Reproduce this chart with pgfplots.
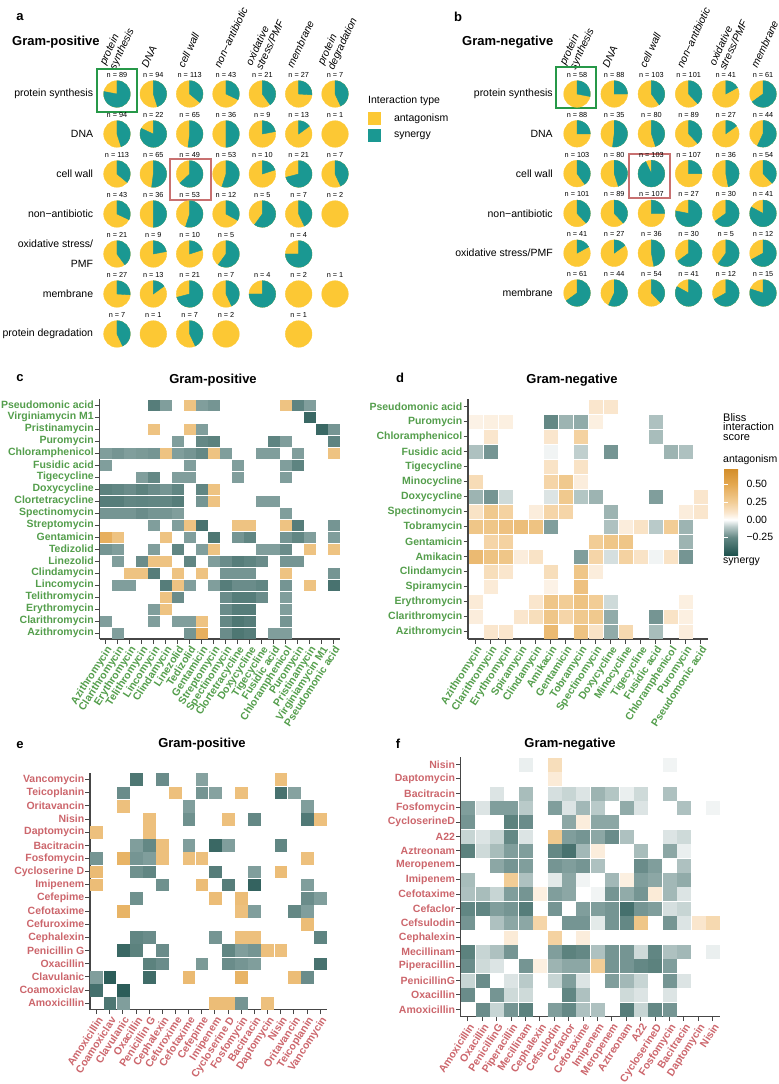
\documentclass[border=0pt]{standalone}
\usepackage{fontspec}
\setmainfont{Liberation Sans}
\usepackage{pgfplots}
\usepackage{pgfplotstable}
\pgfplotsset{compat=1.18}

\pgfdeclareplotmark{emptymark}{}

\definecolor{pieY}{RGB}{252,200,52}
\definecolor{pieT}{RGB}{26,152,146}
\definecolor{labG}{RGB}{84,158,76}
\definecolor{labR}{RGB}{204,102,108}
\definecolor{axg}{RGB}{70,70,70}
\definecolor{boxG}{RGB}{38,152,72}
\definecolor{boxR}{RGB}{200,112,112}

\newcommand\rowfont{\fontsize{10.5bp}{20bp}\selectfont}
\newcommand\colfont{\fontsize{10.5bp}{11bp}\selectfont\itshape}
\newcommand\nfont{\fontsize{7.3bp}{8bp}\selectfont}
\newcommand\hmfont{\fontsize{10.5bp}{11bp}\selectfont\bfseries}
\newcommand\titfont{\fontsize{13bp}{15bp}\selectfont\bfseries}
\newcommand\txtfont{\fontsize{10.5bp}{12bp}\selectfont}

\pgfplotsset{
  colormap={bliss}{
    rgb255(0pt)=(30,82,78);
    rgb255(25pt)=(100,136,133);
    rgb255(40pt)=(185,202,201);
    rgb255(50pt)=(255,255,255);
    rgb255(60pt)=(250,230,205);
    rgb255(75pt)=(242,205,150);
    rgb255(100pt)=(228,168,80);
    rgb255(123pt)=(210,140,40)
  },
  pieaxis/.style={
    scale only axis, clip=false,
    axis line style={draw=none}, major tick length=0pt, tick style={draw=none},
    xticklabel pos=upper,
    point meta min=0, point meta max=1,
    yticklabel style={font=\rowfont, align=right, anchor=east, inner sep=0pt, xshift=-5.5bp},
    xticklabel style={font=\colfont, align=left, xshift=-9bp, yshift=7bp, rotate=65, anchor=west, inner sep=0pt},
  },
  piedraw/.style={
    scatter, only marks, mark=emptymark,
    point meta=\thisrow{f},
    scatter/@pre marker code/.code={%
      \pgfmathsetmacro\pang{-0.36*\pgfplotspointmetatransformed}%
      \pgfmathtruncatemacro\pdo{\pgfplotspointmetatransformed>0.5 ? 1 : 0}%
      \fill[pieY] (0bp,0bp) circle[radius=13.3bp];
      \ifnum\pdo=1
        \fill[pieT] (0bp,0bp) -- (0bp,13.3bp) arc[start angle=90, delta angle=\pang, radius=13.3bp] -- cycle;
      \fi
    },
    scatter/@post marker code/.code={},
  },
  nlab/.style={
    only marks, mark=emptymark, point meta=explicit symbolic,
    nodes near coords={n = \pgfplotspointmeta}, nodes near coords align={anchor=center},
    every node near coord/.append style={font=\nfont, inner sep=0pt, yshift=19bp, text=black},
  },
  hm/.style={
    scale only axis, clip=false,
    axis x line*=bottom, axis y line*=left,
    axis line style={-, draw=axg, line width=1.1bp},
    tick align=outside, major tick length=4.5bp, tick style={draw=axg, line width=0.9bp},
    yticklabel style={font=\hmfont, inner sep=1bp},
    xticklabel style={font=\hmfont, rotate=57, anchor=north east, inner sep=1bp},
    colormap name=bliss, point meta min=-0.5, point meta max=0.73,
  },
  hmplot/.style={scatter, only marks, mark=square*, mark size=#1, point meta=explicit,
    scatter/use mapped color={draw=mapped color, fill=mapped color}},
}

\pgfplotstableread{
x y f n
1 7 0.78 89
2 7 0.45 94
3 7 0.36 113
4 7 0.32 43
5 7 0.40 21
6 7 0.26 27
7 7 0.43 7
1 6 0.45 94
2 6 0.82 22
3 6 0.52 65
4 6 0.50 36
5 6 0.22 9
6 6 0.15 13
7 6 0 1
1 5 0.36 113
2 5 0.52 65
3 5 0.63 49
4 5 0.55 53
5 5 0.20 10
6 5 0.71 21
7 5 0.43 7
1 4 0.32 43
2 4 0.50 36
3 4 0.55 53
4 4 0.33 12
5 4 0.60 5
6 4 0.43 7
7 4 0 2
1 3 0.40 21
2 3 0.22 9
3 3 0.20 10
4 3 0.60 5
6 3 0.75 4
1 2 0.26 27
2 2 0.15 13
3 2 0.71 21
4 2 0.43 7
5 2 0.75 4
6 2 0 2
7 2 0 1
1 1 0.43 7
2 1 0 1
3 1 0.43 7
4 1 0 2
6 1 0 1
}\pieA

\pgfplotstableread{
x y f n
1 6 0.28 58
2 6 0.25 88
3 6 0.40 103
4 6 0.38 101
5 6 0.17 41
6 6 0.65 61
1 5 0.25 88
2 5 0.52 35
3 5 0.45 80
4 5 0.38 89
5 5 0.15 27
6 5 0.57 44
1 4 0.40 103
2 4 0.45 80
3 4 0.93 103
4 4 0.25 107
5 4 0.47 36
6 4 0.38 54
1 3 0.38 101
2 3 0.38 89
3 3 0.25 107
4 3 0.78 27
5 3 0.65 30
6 3 0.83 41
1 2 0.17 41
2 2 0.15 27
3 2 0.47 36
4 2 0.65 30
5 2 0.60 5
6 2 0.67 12
1 1 0.65 61
2 1 0.57 44
3 1 0.38 54
4 1 0.83 41
5 1 0.67 12
6 1 0.80 15
}\pieB

\begin{document}
\begin{tikzpicture}
\useasboundingbox (0,0) rectangle (779bp,-1084bp);

% ---------------- panel a ----------------
\node[font=\titfont] at (20bp,-17bp) {a};
\node[font=\titfont, anchor=west, inner sep=0pt] at (12bp,-42bp) {Gram-positive};
\begin{axis}[pieaxis, at={(98.8bp,-74bp)}, anchor=north west, width=254.4bp, height=280bp,
  xmin=0.5, xmax=7.5, ymin=0.5, ymax=7.5,
  xtick={1,...,7}, ytick={1,...,7},
  xticklabels={{protein\\synthesis},DNA,{cell wall},{non−antibiotic},{oxidative\\stress/PMF},membrane,{protein\\degradation}},
  yticklabels={{protein degradation},membrane,{oxidative stress/\\PMF},{non−antibiotic},{cell wall},DNA,{protein synthesis}},
  legend style={at={(1.058,0.864)}, anchor=north west, draw=none, fill=none, inner sep=0pt,
    font=\txtfont, row sep=5bp, nodes={inner sep=0pt, anchor=west},
    /tikz/every odd column/.style={column sep=14bp}},
]
\addlegendimage{legend image code/.code={\fill[pieY] (0bp,-5.75bp) rectangle (11.5bp,5.75bp);}}
\addlegendentry{antagonism}
\addlegendimage{legend image code/.code={\fill[pieT] (0bp,-5.75bp) rectangle (11.5bp,5.75bp);}}
\addlegendentry{synergy}
\addplot[piedraw] table[x=x, y=y] {\pieA};
\addplot[nlab] table[x=x, y=y, meta=n] {\pieA};
\draw[boxG, line width=2bp] (axis cs:0.45,6.55) rectangle (axis cs:1.55,7.625);
\draw[boxR, line width=2bp] (axis cs:2.46,4.35) rectangle (axis cs:3.59,5.375);
\end{axis}
\node[font=\txtfont, anchor=west, inner sep=0pt] at (368bp,-101bp) {Interaction type};

% ---------------- panel b ----------------
\node[font=\titfont] at (458bp,-17bp) {b};
\node[font=\titfont, anchor=west, inner sep=0pt] at (462bp,-42bp) {Gram-negative};
\begin{axis}[pieaxis, at={(558.4bp,-74.1bp)}, anchor=north west, width=223.2bp, height=238.8bp,
  xmin=0.5, xmax=6.5, ymin=0.5, ymax=6.5,
  xtick={1,...,6}, ytick={1,...,6},
  xticklabels={{protein\\synthesis},DNA,{cell wall},{non−antibiotic},{oxidative\\stress/PMF},membrane},
  yticklabels={membrane,{oxidative stress/PMF},{non−antibiotic},{cell wall},DNA,{protein synthesis}},
]
\addplot[piedraw] table[x=x, y=y] {\pieB};
\addplot[nlab] table[x=x, y=y, meta=n] {\pieB};
\draw[boxG, line width=2bp] (axis cs:0.435,5.65) rectangle (axis cs:1.51,6.68);
\draw[boxR, line width=2bp] (axis cs:2.40,3.38) rectangle (axis cs:3.50,4.49);
\end{axis}

% ---------------- panel c ----------------
\node[font=\titfont] at (20bp,-378bp) {c};
\node[font=\titfont] at (213bp,-380bp) {Gram-positive};
\begin{axis}[hm, at={(99.5bp,-399bp)}, anchor=north west, width=240bp, height=240bp,
  xmin=0.5, xmax=20.5, ymin=0.5, ymax=20.5, xtick={1,...,20}, ytick={1,...,20},
  yticklabel style={text=labG}, xticklabel style={text=labG},
  xticklabels={Azithromycin,Clarithromycin,Erythromycin,Telithromycin,Lincomycin,Clindamycin,Linezolid,Tedizolid,Gentamicin,Streptomycin,Spectinomycin,Clortetracycline,Doxycycline,Tigecycline,{Fusidic acid},Chloramphenicol,Puromycin,Pristinamycin,{Virginiamycin M1},{Pseudomonic acid}},
  yticklabels={Azithromycin,Clarithromycin,Erythromycin,Telithromycin,Lincomycin,Clindamycin,Linezolid,Tedizolid,Gentamicin,Streptomycin,Spectinomycin,Clortetracycline,Doxycycline,Tigecycline,{Fusidic acid},Chloramphenicol,Puromycin,Pristinamycin,{Virginiamycin M1},{Pseudomonic acid}},
]
\addplot[hmplot=5.3bp] coordinates {
(5,20)[-0.3] (6,20)[-0.2] (8,20)[0.32] (9,20)[-0.2] (10,20)[-0.22] (16,20)[0.32] (17,20)[-0.27] (18,20)[-0.2]
(18,19)[-0.4]
(5,18)[0.32] (8,18)[0.32] (9,18)[-0.2] (19,18)[-0.4] (20,18)[-0.22]
(7,17)[-0.2] (9,17)[-0.25] (10,17)[-0.28] (15,17)[-0.27] (16,17)[-0.2] (20,17)[-0.27]
(1,16)[-0.2] (2,16)[-0.22] (3,16)[-0.2] (4,16)[-0.21] (5,16)[-0.22] (6,16)[0.32] (7,16)[-0.2] (8,16)[-0.22] (9,16)[-0.25] (10,16)[0.32] (11,16)[-0.2] (14,16)[-0.2] (15,16)[-0.2] (17,16)[-0.2] (20,16)[0.32]
(1,15)[-0.2] (8,15)[-0.2] (12,15)[-0.2] (16,15)[-0.2] (17,15)[-0.27]
(4,14)[-0.2] (5,14)[-0.25] (7,14)[-0.2] (8,14)[-0.2] (12,14)[-0.2] (16,14)[-0.2]
(1,13)[-0.28] (2,13)[-0.26] (3,13)[-0.24] (4,13)[-0.28] (5,13)[-0.24] (6,13)[-0.22] (7,13)[-0.26] (9,13)[-0.26] (10,13)[0.32]
(1,12)[-0.3] (2,12)[-0.3] (3,12)[-0.26] (4,12)[-0.27] (5,12)[-0.26] (6,12)[-0.26] (7,12)[-0.3] (9,12)[-0.22] (10,12)[0.32] (14,12)[-0.2] (15,12)[-0.2]
(1,11)[-0.22] (2,11)[-0.22] (3,11)[-0.22] (4,11)[-0.24] (5,11)[-0.22] (6,11)[-0.22] (7,11)[-0.2] (16,11)[-0.2]
(5,10)[-0.2] (7,10)[-0.2] (8,10)[0.32] (9,10)[-0.35] (12,10)[0.32] (13,10)[0.32] (16,10)[0.32] (17,10)[-0.3] (20,10)[-0.22]
(1,9)[0.45] (2,9)[0.32] (6,9)[0.32] (8,9)[-0.2] (10,9)[-0.33] (12,9)[-0.22] (13,9)[-0.26] (16,9)[-0.22] (17,9)[-0.26] (18,9)[-0.2] (20,9)[-0.2]
(1,8)[-0.22] (2,8)[-0.2] (5,8)[-0.2] (7,8)[-0.26] (9,8)[-0.2] (10,8)[0.32] (14,8)[-0.2] (15,8)[-0.2] (16,8)[-0.24] (18,8)[0.32] (20,8)[0.32]
(2,7)[-0.2] (4,7)[-0.24] (5,7)[0.32] (6,7)[0.32] (8,7)[-0.26] (10,7)[-0.2] (11,7)[-0.24] (12,7)[-0.3] (13,7)[-0.27] (14,7)[-0.24] (16,7)[-0.22] (17,7)[-0.22]
(3,6)[0.32] (4,6)[0.32] (5,6)[-0.3] (7,6)[0.32] (9,6)[0.32] (11,6)[-0.22] (12,6)[-0.22] (13,6)[-0.22] (16,6)[0.32] (20,6)[-0.22]
(2,5)[-0.2] (3,5)[-0.2] (6,5)[-0.3] (7,5)[0.32] (8,5)[-0.2] (10,5)[-0.2] (11,5)[-0.3] (12,5)[-0.24] (13,5)[-0.24] (14,5)[-0.26] (16,5)[-0.22] (18,5)[0.32] (20,5)[-0.35]
(6,4)[0.32] (7,4)[-0.24] (11,4)[-0.24] (12,4)[-0.3] (13,4)[-0.3] (14,4)[-0.24] (16,4)[-0.2]
(5,3)[-0.2] (6,3)[0.32] (11,3)[-0.24] (12,3)[-0.3] (13,3)[-0.3] (16,3)[-0.2]
(1,2)[-0.2] (5,2)[-0.2] (7,2)[-0.2] (8,2)[-0.2] (9,2)[0.32] (11,2)[-0.25] (12,2)[-0.33] (13,2)[-0.3] (16,2)[-0.22]
(2,1)[-0.2] (8,1)[-0.22] (9,1)[0.45] (11,1)[-0.24] (12,1)[-0.33] (13,1)[-0.3] (15,1)[-0.2] (16,1)[-0.2]
};
\end{axis}

% ---------------- panel d ----------------
\node[font=\titfont] at (400bp,-378bp) {d};
\node[font=\titfont] at (572bp,-380bp) {Gram-negative};
\begin{axis}[hm, at={(468bp,-399bp)}, anchor=north west, width=240bp, height=240bp,
  xmin=0.5, xmax=16.5, ymin=0.5, ymax=16.5, xtick={1,...,16}, ytick={1,...,16},
  yticklabel style={text=labG}, xticklabel style={text=labG},
  xticklabels={Azithromycin,Clarithromycin,Erythromycin,Spiramycin,Clindamycin,Amikacin,Gentamicin,Tobramycin,Spectinomycin,Doxycycline,Minocycline,Tigecycline,{Fusidic acid},Chloramphenicol,Puromycin,{Pseudomonic acid}},
  yticklabels={Azithromycin,Clarithromycin,Erythromycin,Spiramycin,Clindamycin,Amikacin,Gentamicin,Tobramycin,Spectinomycin,Doxycycline,Minocycline,Tigecycline,{Fusidic acid},Chloramphenicol,Puromycin,{Pseudomonic acid}},
  colorbar,
  colorbar style={at={(1.0667,0.7125)}, anchor=north west,
    scale only axis, width=19bp, height=87bp,
    ytick={-0.25,0,0.25,0.5}, yticklabels={−0.25,0.00,0.25,0.50},
    yticklabel style={font=\txtfont, text=black},
    axis line style={draw=none}, tick align=inside, major tick length=4bp,
    ytick style={draw=white, line width=0.8bp}},
]
\addplot[hmplot=6.8bp] coordinates {
(9,16)[0.1] (10,16)[0.1]
(1,15)[0.05] (2,15)[0.06] (3,15)[0.06] (6,15)[-0.25] (7,15)[-0.15] (8,15)[-0.17] (9,15)[0.06] (13,15)[-0.12]
(2,14)[0.1] (6,14)[0.1] (8,14)[0.22] (13,14)[-0.13]
(1,13)[-0.12] (2,13)[-0.22] (6,13)[-0.02] (8,13)[-0.09] (10,13)[-0.22] (14,13)[-0.15] (15,13)[-0.12]
(6,12)[0.12] (8,12)[0.12]
(1,11)[0.16] (6,11)[0.2] (7,11)[0.28] (8,11)[0.07]
(1,10)[-0.15] (2,10)[-0.22] (3,10)[-0.07] (6,10)[-0.05] (7,10)[0.28] (8,10)[-0.11] (9,10)[-0.15] (13,10)[-0.2] (16,10)[0.1]
(1,9)[0.12] (2,9)[0.28] (3,9)[0.22] (5,9)[0.07] (6,9)[0.2] (7,9)[0.2] (10,9)[-0.15] (15,9)[0.07] (16,9)[0.1]
(1,8)[0.3] (2,8)[0.3] (3,8)[0.33] (4,8)[0.35] (5,8)[0.32] (6,8)[-0.2] (10,8)[-0.12] (11,8)[0.07] (12,8)[0.12] (13,8)[-0.1] (14,8)[0.25] (15,8)[-0.15]
(2,7)[0.2] (3,7)[0.22] (9,7)[0.25] (10,7)[0.3] (11,7)[0.3] (15,7)[-0.15]
(1,6)[0.38] (2,6)[0.32] (3,6)[0.3] (4,6)[0.07] (5,6)[0.12] (8,6)[-0.2] (9,6)[0.2] (10,6)[-0.06] (11,6)[0.22] (12,6)[0.12] (13,6)[-0.02] (14,6)[0.12] (15,6)[-0.22]
(2,5)[0.15] (3,5)[0.1] (6,5)[0.15] (8,5)[0.3] (9,5)[0.07]
(2,4)[0.08] (6,4)[0.05] (8,4)[0.33]
(1,3)[0.08] (5,3)[0.1] (6,3)[0.3] (7,3)[0.25] (8,3)[0.32] (9,3)[0.25] (10,3)[-0.07] (15,3)[0.06]
(1,2)[0.07] (4,2)[0.1] (5,2)[0.15] (6,2)[0.3] (7,2)[0.2] (8,2)[0.28] (9,2)[0.28] (10,2)[-0.17] (13,2)[-0.22] (14,2)[0.12] (15,2)[0.06]
(2,1)[0.1] (3,1)[0.1] (6,1)[0.38] (8,1)[0.32] (9,1)[0.12] (10,1)[-0.17] (11,1)[0.18] (13,1)[-0.13] (15,1)[0.07]
};
\end{axis}
\node[font=\fontsize{11bp}{9.5bp}\selectfont, anchor=north west, align=left, inner sep=0pt] at (723bp,-413bp) {Bliss\\interaction\\score};
\node[font=\txtfont, anchor=west, inner sep=0pt] at (723bp,-460bp) {antagonism};
\node[font=\txtfont, anchor=west, inner sep=0pt] at (723bp,-562bp) {synergy};

% ---------------- panel e ----------------
\node[font=\titfont] at (20bp,-745bp) {e};
\node[font=\titfont] at (202bp,-744bp) {Gram-positive};
\begin{axis}[hm, at={(90bp,-773bp)}, anchor=north west, width=236.7bp, height=236.7bp,
  xmin=0.5, xmax=18.5, ymin=0.5, ymax=18.5, xtick={1,...,18}, ytick={1,...,18},
  yticklabel style={text=labR}, xticklabel style={text=labR},
  xticklabels={Amoxicillin,Coamoxiclav,Clavulanic,Oxacillin,{Penicillin G},Cephalexin,Cefuroxime,Cefotaxime,Cefepime,Imipenem,{Cycloserine D},Fosfomycin,Bacitracin,Daptomycin,Nisin,Oritavancin,Teicoplanin,Vancomycin},
  yticklabels={Amoxicillin,Coamoxiclav,Clavulanic,Oxacillin,{Penicillin G},Cephalexin,Cefuroxime,Cefotaxime,Cefepime,Imipenem,{Cycloserine D},Fosfomycin,Bacitracin,Daptomycin,Nisin,Oritavancin,Teicoplanin,Vancomycin},
]
\addplot[hmplot=5.9bp] coordinates {
(4,18)[-0.33] (6,18)[-0.24] (9,18)[-0.19] (15,18)[0.34]
(3,17)[-0.24] (7,17)[0.34] (9,17)[-0.22] (10,17)[-0.19] (12,17)[0.34] (15,17)[-0.35] (16,17)[-0.19]
(3,16)[0.34] (8,16)[-0.2] (17,16)[-0.2]
(5,15)[0.34] (8,15)[-0.23] (11,15)[0.34] (13,15)[-0.25] (17,15)[-0.32] (18,15)[0.34]
(1,14)[0.34] (5,14)[0.34]
(4,13)[-0.2] (5,13)[-0.25] (6,13)[0.34] (8,13)[-0.2] (10,13)[-0.4] (11,13)[-0.2] (15,13)[-0.26]
(1,12)[-0.22] (3,12)[0.42] (4,12)[-0.22] (5,12)[-0.2] (6,12)[0.34] (8,12)[0.34] (9,12)[0.34] (17,12)[0.34]
(1,11)[0.37] (4,11)[-0.23] (5,11)[-0.26] (10,11)[-0.3] (13,11)[-0.2] (15,11)[0.36]
(1,10)[0.36] (6,10)[-0.23] (9,10)[0.36] (11,10)[-0.3] (13,10)[-0.42] (17,10)[-0.2]
(4,9)[-0.23] (10,9)[0.36] (12,9)[0.36] (17,9)[-0.24] (18,9)[-0.2]
(3,8)[0.42] (12,8)[0.34] (13,8)[-0.2] (16,8)[-0.25] (17,8)[-0.2]
(17,7)[0.36]
(4,6)[-0.26] (5,6)[-0.24] (10,6)[-0.22] (12,6)[0.34] (13,6)[0.34] (18,6)[-0.27]
(3,5)[-0.4] (4,5)[-0.28] (6,5)[-0.24] (11,5)[-0.26] (12,5)[-0.2] (13,5)[-0.22] (14,5)[0.34] (15,5)[0.34]
(5,4)[-0.28] (6,4)[-0.24] (9,4)[-0.21] (11,4)[-0.24] (12,4)[-0.22] (13,4)[-0.2] (18,4)[-0.35]
(1,3)[-0.2] (2,3)[-0.45] (5,3)[-0.38] (8,3)[0.38] (12,3)[0.42] (16,3)[0.36] (17,3)[-0.24]
(1,2)[-0.36] (3,2)[-0.45]
(2,1)[-0.33] (3,1)[-0.2] (10,1)[0.36] (11,1)[0.36] (12,1)[-0.22] (14,1)[0.34]
};
\end{axis}

% ---------------- panel f ----------------
\node[font=\titfont] at (398bp,-744bp) {f};
\node[font=\titfont] at (570bp,-744bp) {Gram-negative};
\begin{axis}[hm, at={(460.7bp,-757.3bp)}, anchor=north west, width=259.2bp, height=259.2bp,
  xmin=0.5, xmax=18.5, ymin=0.5, ymax=18.5, xtick={1,...,18}, ytick={1,...,18},
  yticklabel style={text=labR}, xticklabel style={text=labR},
  xticklabels={Amoxicillin,Oxacillin,PenicillinG,Piperacillin,Mecillinam,Cephalexin,Cefsulodin,Cefaclor,Cefotaxime,Imipenem,Meropenem,Aztreonam,A22,CycloserineD,Fosfomycin,Bacitracin,Daptomycin,Nisin},
  yticklabels={Amoxicillin,Oxacillin,PenicillinG,Piperacillin,Mecillinam,Cephalexin,Cefsulodin,Cefaclor,Cefotaxime,Imipenem,Meropenem,Aztreonam,A22,CycloserineD,Fosfomycin,Bacitracin,Daptomycin,Nisin},
]
\addplot[hmplot=6.5bp] coordinates {
(5,18)[-0.03] (7,18)[0.15] (15,18)[-0.02]
(7,17)[0.08]
(3,16)[-0.05] (5,16)[-0.13] (7,16)[-0.06] (8,16)[-0.08] (9,16)[-0.05] (10,16)[-0.15] (11,16)[-0.11] (12,16)[-0.03] (13,16)[-0.07] (15,16)[-0.12]
(1,15)[-0.2] (2,15)[-0.05] (3,15)[-0.2] (4,15)[-0.2] (5,15)[-0.1] (7,15)[-0.2] (8,15)[-0.05] (9,15)[-0.14] (10,15)[-0.1] (12,15)[-0.17] (13,15)[-0.05] (16,15)[-0.12] (18,15)[-0.02]
(1,14)[-0.22] (4,14)[-0.28] (5,14)[-0.24] (8,14)[-0.18] (9,14)[0.07] (10,14)[-0.18] (11,14)[-0.18]
(1,13)[-0.08] (2,13)[-0.05] (3,13)[-0.08] (4,13)[-0.25] (5,13)[-0.05] (7,13)[0.28] (8,13)[-0.2] (9,13)[-0.22] (10,13)[-0.18] (11,13)[-0.24] (12,13)[-0.12] (15,13)[-0.05] (16,13)[-0.07]
(1,12)[-0.28] (2,12)[-0.07] (3,12)[-0.13] (4,12)[-0.2] (5,12)[-0.2] (7,12)[-0.25] (8,12)[-0.35] (9,12)[-0.14] (10,12)[0.07] (13,12)[-0.13] (15,12)[-0.18] (16,12)[-0.03]
(3,11)[-0.18] (4,11)[-0.22] (5,11)[-0.2] (7,11)[-0.22] (8,11)[-0.2] (9,11)[-0.22] (10,11)[-0.12] (13,11)[-0.24] (14,11)[-0.2] (16,11)[-0.12]
(1,10)[-0.13] (4,10)[0.25] (5,10)[-0.12] (7,10)[-0.04] (8,10)[-0.18] (9,10)[-0.02] (11,10)[-0.14] (12,10)[0.06] (13,10)[-0.2] (14,10)[-0.18] (15,10)[-0.14] (16,10)[-0.17]
(1,9)[-0.12] (2,9)[-0.13] (3,9)[-0.08] (4,9)[-0.2] (5,9)[-0.22] (6,9)[0.06] (7,9)[-0.2] (8,9)[-0.18] (10,9)[-0.02] (11,9)[-0.22] (12,9)[-0.17] (13,9)[-0.22] (14,9)[0.08] (15,9)[-0.14] (16,9)[-0.05]
(1,8)[-0.26] (2,8)[-0.26] (3,8)[-0.2] (4,8)[-0.22] (5,8)[-0.3] (7,8)[-0.22] (9,8)[-0.2] (10,8)[-0.2] (11,8)[-0.22] (12,8)[-0.36] (13,8)[-0.22] (14,8)[-0.2] (15,8)[-0.06] (16,8)[-0.08]
(1,7)[-0.22] (3,7)[-0.12] (4,7)[-0.18] (5,7)[-0.18] (6,7)[0.2] (8,7)[-0.22] (9,7)[-0.22] (10,7)[-0.04] (11,7)[-0.22] (12,7)[-0.25] (13,7)[0.3] (15,7)[-0.22] (16,7)[-0.05] (17,7)[0.1] (18,7)[0.18]
(4,6)[0.08] (7,6)[0.22] (9,6)[0.07]
(1,5)[-0.28] (2,5)[-0.08] (3,5)[-0.12] (4,5)[-0.22] (7,5)[-0.2] (8,5)[-0.28] (9,5)[-0.25] (10,5)[-0.12] (11,5)[-0.22] (12,5)[-0.22] (13,5)[-0.07] (14,5)[-0.26] (15,5)[-0.12] (16,5)[-0.14] (18,5)[-0.03]
(1,4)[-0.24] (2,4)[-0.07] (3,4)[-0.05] (5,4)[-0.22] (6,4)[0.06] (7,4)[-0.15] (8,4)[-0.18] (9,4)[-0.18] (10,4)[0.25] (11,4)[-0.22] (12,4)[-0.22] (13,4)[-0.25] (14,4)[-0.28] (15,4)[-0.2]
(1,3)[-0.08] (2,3)[-0.24] (4,3)[-0.05] (5,3)[-0.1] (7,3)[-0.08] (8,3)[-0.2] (9,3)[-0.05] (11,3)[-0.2] (12,3)[-0.14] (13,3)[-0.08] (15,3)[-0.22] (16,3)[-0.05]
(1,2)[-0.24] (3,2)[-0.22] (4,2)[-0.07] (5,2)[-0.07] (8,2)[-0.26] (9,2)[-0.12] (12,2)[-0.07] (13,2)[-0.05] (15,2)[-0.05]
(2,1)[-0.24] (3,1)[-0.08] (4,1)[-0.22] (5,1)[-0.28] (7,1)[-0.2] (8,1)[-0.25] (9,1)[-0.12] (10,1)[-0.12] (12,1)[-0.3] (13,1)[-0.08] (14,1)[-0.25] (15,1)[-0.22]
};
\end{axis}
\end{tikzpicture}
\end{document}
